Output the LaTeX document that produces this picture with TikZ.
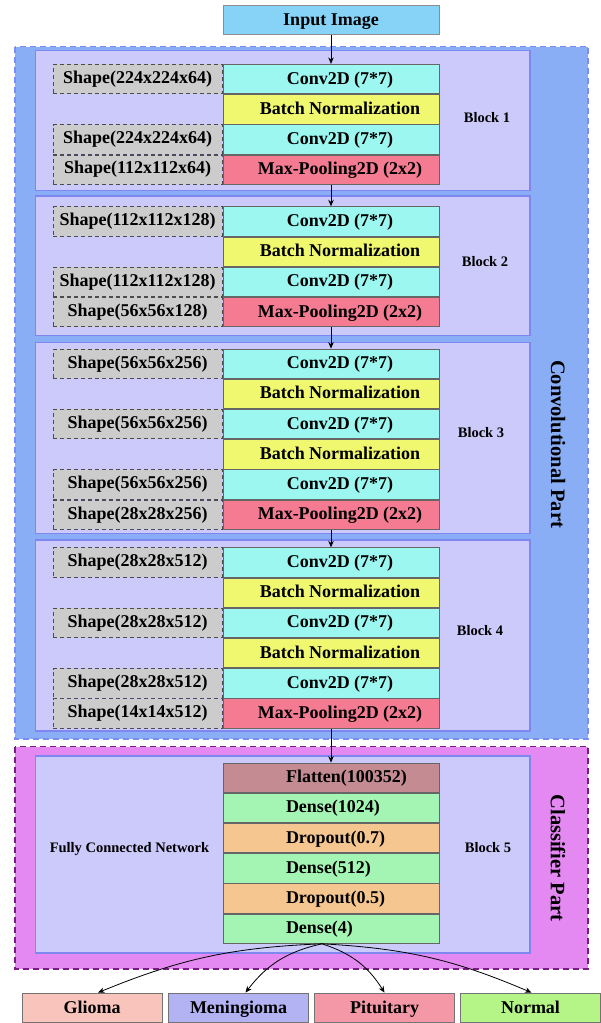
\documentclass[tikz,border=0pt]{standalone}
\usepackage{fontspec}
\setmainfont{Liberation Serif}
\usepackage{xcolor}
\usetikzlibrary{positioning}
\usetikzlibrary{arrows.meta}

\definecolor{inputc}{HTML}{87D3F7}
\definecolor{convpartc}{HTML}{8AAEF6}
\definecolor{convpartline}{HTML}{7B8DF4}
\definecolor{blockc}{HTML}{CCC9FB}
\definecolor{blockline}{HTML}{7F86F0}
\definecolor{convc}{HTML}{9CF7F1}
\definecolor{bnc}{HTML}{F0F870}
\definecolor{poolc}{HTML}{F57B93}
\definecolor{shapec}{HTML}{CCCCCC}
\definecolor{flatc}{HTML}{C48B92}
\definecolor{densec}{HTML}{A4F4B4}
\definecolor{dropc}{HTML}{F5C690}
\definecolor{clspartc}{HTML}{E489F2}
\definecolor{clspartline}{HTML}{7A1A85}
\definecolor{gliomac}{HTML}{F8C4BC}
\definecolor{meningc}{HTML}{B3B3F4}
\definecolor{pituc}{HTML}{F498A8}
\definecolor{normalc}{HTML}{B5F486}

\newcommand{\fcname}[1]{\makebox[90pt][l]{#1}}

\begin{document}
\begin{tikzpicture}[x=1pt, y=-1pt, node distance=0pt,
    layer/.style={draw=black!60, line width=0.8pt, minimum width=216pt, minimum height=29.4pt, inner sep=0pt, text height=13pt, text depth=3pt},
    convrow/.style={layer, font=\bfseries\fontsize{18}{19}\selectfont, execute at begin node={\hspace*{18pt}}},
    fcrow/.style={layer, font=\bfseries\fontsize{18}{19}\selectfont},
    shapebox/.style={draw=black!70, dash pattern=on 4pt off 3pt, line width=0.8pt, fill=shapec, minimum width=169pt, minimum height=29.4pt, inner sep=0pt, font=\bfseries\fontsize{18}{19}\selectfont},
    blockbox/.style={draw=blockline, line width=1.3pt, fill=blockc},
    blocklabel/.style={font=\bfseries\fontsize{14.5}{15}\selectfont},
    partlabel/.style={rotate=-90, font=\bfseries\fontsize{20.5}{21}\selectfont},
    outbox/.style={draw=black!55, line width=0.8pt, minimum width=140pt, minimum height=29pt, inner sep=0pt, text height=13.5pt, text depth=2.5pt, font=\bfseries\fontsize{18}{19}\selectfont},
    arr/.style={-{Stealth[length=6.5pt,width=5.5pt]}, line width=0.8pt}]
    \useasboundingbox (0,0) rectangle (601,1023);

    % Convolutional part
    \draw[convpartline, dash pattern=on 6pt off 4pt, line width=1.3pt, fill=convpartc] (15,46.7) rectangle (588,739);
    \draw[blockbox] (35.5,50.7) rectangle (530,190.7);
    \draw[blockbox] (35.5,196) rectangle (530,335.5);
    \draw[blockbox] (35.5,342.3) rectangle (530,533.5);
    \draw[blockbox] (35.5,540) rectangle (530,731);

    \node[layer, fill=inputc, draw=black!45, minimum height=28.6pt, font=\bfseries\fontsize{18}{19}\selectfont] (input) at (331,20) {Input Image};

    % Block 1
    \node[convrow, fill=convc] (c11) at (331,79) {Conv2D (7*7)};
    \node[convrow, fill=bnc, below=of c11] (b11) {Batch Normalization};
    \node[convrow, fill=convc, below=of b11] (c12) {Conv2D (7*7)};
    \node[convrow, fill=poolc, below=of c12] (p1) {Max-Pooling2D (2x2)};
    \node[shapebox, left=of c11] (s11) {Shape(224x224x64)};
    \node[shapebox, left=of c12] (s12) {Shape(224x224x64)};
    \node[shapebox, left=of p1] (s13) {Shape(112x112x64)};
    \node[blocklabel] (lbl1) at (487,118) {Block 1};

    % Block 2
    \node[convrow, fill=convc] (c21) at (331,221.4) {Conv2D (7*7)};
    \node[convrow, fill=bnc, below=of c21] (b21) {Batch Normalization};
    \node[convrow, fill=convc, below=of b21] (c22) {Conv2D (7*7)};
    \node[convrow, fill=poolc, below=of c22] (p2) {Max-Pooling2D (2x2)};
    \node[shapebox, left=of c21] (s21) {Shape(112x112x128)};
    \node[shapebox, left=of c22] (s22) {Shape(112x112x128)};
    \node[shapebox, left=of p2] (s23) {Shape(56x56x128)};
    \node[blocklabel] (lbl2) at (485,262) {Block 2};

    % Block 3
    \node[convrow, fill=convc] (c31) at (331,363.7) {Conv2D (7*7)};
    \node[convrow, fill=bnc, below=of c31] (b31) {Batch Normalization};
    \node[convrow, fill=convc, below=of b31] (c32) {Conv2D (7*7)};
    \node[convrow, fill=bnc, below=of c32] (b32) {Batch Normalization};
    \node[convrow, fill=convc, below=of b32] (c33) {Conv2D (7*7)};
    \node[convrow, fill=poolc, below=of c33] (p3) {Max-Pooling2D (2x2)};
    \node[shapebox, left=of c31] (s31) {Shape(56x56x256)};
    \node[shapebox, left=of c32] (s32) {Shape(56x56x256)};
    \node[shapebox, left=of c33] (s33) {Shape(56x56x256)};
    \node[shapebox, left=of p3] (s34) {Shape(28x28x256)};
    \node[blocklabel] (lbl3) at (481,433) {Block 3};

    % Block 4
    \node[convrow, fill=convc] (c41) at (331,562.4) {Conv2D (7*7)};
    \node[convrow, fill=bnc, below=of c41] (b41) {Batch Normalization};
    \node[convrow, fill=convc, below=of b41] (c42) {Conv2D (7*7)};
    \node[convrow, fill=bnc, below=of c42] (b42) {Batch Normalization};
    \node[convrow, fill=convc, below=of b42] (c43) {Conv2D (7*7)};
    \node[convrow, fill=poolc, below=of c43] (p4) {Max-Pooling2D (2x2)};
    \node[shapebox, left=of c41] (s41) {Shape(28x28x512)};
    \node[shapebox, left=of c42] (s42) {Shape(28x28x512)};
    \node[shapebox, left=of c43] (s43) {Shape(28x28x512)};
    \node[shapebox, left=of p4] (s44) {Shape(14x14x512)};
    \node[blocklabel] (lbl4) at (480,631) {Block 4};

    \node[partlabel] (convpart) at (558,444) {Convolutional Part};

    % Classifier part
    \draw[clspartline, dash pattern=on 6pt off 4pt, line width=1.3pt, fill=clspartc] (15,746.7) rectangle (588,969);
    \draw[blockbox] (35.5,756) rectangle (530,953);

    \node[fcrow, fill=flatc] (f1) at (331,777.7) {\fcname{Flatten(100352)}};
    \node[fcrow, fill=densec, below=of f1] (d1) {\fcname{Dense(1024)}};
    \node[fcrow, fill=dropc, below=of d1] (r1) {\fcname{Dropout(0.7)}};
    \node[fcrow, fill=densec, below=of r1] (d2) {\fcname{Dense(512)}};
    \node[fcrow, fill=dropc, below=of d2] (r2) {\fcname{Dropout(0.5)}};
    \node[fcrow, fill=densec, below=of r2] (d3) {\fcname{Dense(4)}};
    \node[blocklabel] (fcn) at (129.5,849) {Fully Connected Network};
    \node[blocklabel] (lbl5) at (488,848) {Block 5};

    \node[partlabel] (clspart) at (558,858) {Classifier Part};

    % Outputs
    \node[outbox, fill=gliomac] (glioma) at (92,1007.5) {Glioma};
    \node[outbox, fill=meningc] (mening) at (238.5,1007.5) {Meningioma};
    \node[outbox, fill=pituc] (pitu) at (384.5,1007.5) {Pituitary};
    \node[outbox, fill=normalc] (normal) at (530.5,1007.5) {Normal};

    \draw[arr] (input) -- (c11);
    \draw[arr] (p1) -- (c21);
    \draw[arr] (p2) -- (c31);
    \draw[arr] (p3) -- (c41);
    \draw[arr] (p4) -- (f1);

    \coordinate (fork) at ([xshift=-9pt]d3.south);
    \draw[arr] (fork) to[bend right=10] ([xshift=6pt]glioma.north);
    \draw[arr] (fork) to[bend right=20] ([xshift=7pt]mening.north);
    \draw[arr] (fork) to[bend left=20] (pitu.north);
    \draw[arr] (fork) to[bend left=10] ([xshift=1pt]normal.north);
\end{tikzpicture}
\end{document}
